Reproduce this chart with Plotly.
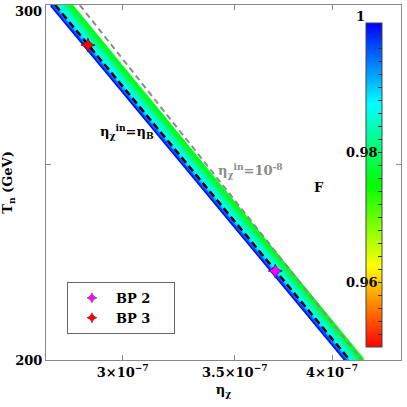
import plotly.graph_objects as go
from plotly.colors import sample_colorscale

# colour scale of F (red -> blue)
f_min, f_max = 0.95, 1.0
f_scale = [[0.0, "#ff0000"], [0.25, "#ffff00"], [0.5, "#00ff00"],
           [0.75, "#00ffff"], [1.0, "#0000ff"]]

# scan band, drawn as thin strips: eta_chi at T=300 GeV and at T=200 GeV, and F
T_ends = [300, 200]
strip_eta_300 = [2.719e-7, 2.7265e-7, 2.734e-7, 2.7415e-7, 2.7491e-7, 2.7566e-7,
                 2.7642e-7, 2.7718e-7, 2.7794e-7, 2.7871e-7, 2.7948e-7]
strip_eta_200 = [4.0755e-7, 4.0868e-7, 4.098e-7, 4.1076e-7, 4.1172e-7, 4.1268e-7,
                 4.1364e-7, 4.1461e-7, 4.1558e-7, 4.1655e-7, 4.1753e-7]
strip_F = [0.9995, 0.996, 0.991, 0.9885, 0.987, 0.9855, 0.984, 0.982, 0.980, 0.978, 0.9765]

# boundary lines
eta_B_line = [2.734e-7, 4.098e-7]      # eta_chi^in = eta_B
eta_1e8_line = [2.828e-7, 4.166e-7]    # eta_chi^in = 1e-8

# benchmark points
bp_names = ["BP 2", "BP 3"]
bp_eta = [3.70e-7, 2.860e-7]
bp_T = [221.4, 286.6]
bp_colors = ["#ff00ff", "#ff0000"]
bp_edges = ["#6a006a", "#7a0000"]

x_ticks = [3e-7, 3.5e-7, 4e-7]
x_ticktext = ["3×10<sup>−7</sup>", "3.5×10<sup>−7</sup>", "4×10<sup>−7</sup>"]
y_ticks = [200, 250, 300]
y_ticktext = ["200", "", ""]   # "300" is placed just below the top tick, see below
cb_ticks = [round(0.95 + 0.002 * i, 3) for i in range(25)]
cb_ticktext = {0.96: "0.96", 0.98: "0.98"}

font = dict(family="DejaVu Serif", size=13, color="black", weight="bold")

fig = go.Figure()

for e300, e200, f in zip(strip_eta_300, strip_eta_200, strip_F):
    col = sample_colorscale(f_scale, [(f - f_min) / (f_max - f_min)])[0]
    fig.add_trace(go.Scatter(x=[e300, e200], y=T_ends, mode="lines",
                             line=dict(color=col, width=3.2),
                             showlegend=False, hoverinfo="skip"))

# colour bar carrier
fig.add_trace(go.Scatter(
    x=strip_eta_300, y=[T_ends[0]] * len(strip_eta_300), mode="markers",
    marker=dict(color=strip_F, colorscale=f_scale, cmin=f_min, cmax=f_max, opacity=0,
                showscale=True,
                colorbar=dict(x=0.901, xanchor="left", xpad=0, ypad=0,
                              y=0.493, yanchor="middle", len=0.913, thickness=16,
                              outlinewidth=1, outlinecolor="#444",
                              tickvals=cb_ticks,
                              ticktext=[cb_ticktext.get(v, "") for v in cb_ticks],
                              ticks="inside", ticklen=4, tickcolor="#333",
                              ticklabelposition="inside",
                              tickfont=font)),
    showlegend=False, hoverinfo="skip"))

fig.add_trace(go.Scatter(x=eta_1e8_line, y=T_ends, mode="lines",
                         line=dict(color="#8c8c8c", width=2, dash="6px,4px"),
                         showlegend=False, hoverinfo="skip"))
fig.add_trace(go.Scatter(x=eta_B_line, y=T_ends, mode="lines",
                         line=dict(color="black", width=2.5, dash="7px,4px"),
                         showlegend=False, hoverinfo="skip"))

for name, ex, ty, c, ec in zip(bp_names, bp_eta, bp_T, bp_colors, bp_edges):
    fig.add_trace(go.Scatter(x=[ex], y=[ty], mode="markers", showlegend=False,
                             marker=dict(symbol="star-diamond", size=10, color=c,
                                         line=dict(color=ec, width=0.8))))
    # smaller symbol for the legend
    fig.add_trace(go.Scatter(x=[None], y=[None], mode="markers",
                             name=name + "\u00a0" * 4,
                             marker=dict(symbol="star-diamond", size=7, color=c,
                                         line=dict(color=ec, width=0.6))))

fig.add_annotation(x=0.228, y=0.645, xref="paper", yref="paper", showarrow=False,
                   xanchor="center", yanchor="middle",
                   text="η<sub>χ</sub><sup>in</sup>=η<sub>B</sub>", font=font)
fig.add_annotation(x=0.575, y=0.535, xref="paper", yref="paper", showarrow=False,
                   xanchor="center", yanchor="middle",
                   text="η<sub>χ</sub><sup>in</sup>=10<sup>-8</sup>",
                   font=dict(font, color="#8c8c8c"))
fig.add_annotation(x=0.769, y=0.485, xref="paper", yref="paper", showarrow=False,
                   xanchor="center", yanchor="middle", text="F", font=font)
# top label of the colour bar sits just above the bar
fig.add_annotation(x=0.905, y=0.969, xref="paper", yref="paper", showarrow=False,
                   xanchor="right", yanchor="middle", text="1", font=font)
# top tick label of the T axis, hung just under the frame
fig.add_annotation(x=0, y=1, xref="paper", yref="paper", showarrow=False,
                   xanchor="right", yanchor="top", xshift=-2, yshift=3,
                   text="300", font=font)

axis_common = dict(type="log", showgrid=False, zeroline=False, showline=True,
                   linecolor="#888", linewidth=1, mirror="allticks", automargin=False,
                   ticks="inside", ticklen=5, tickcolor="#888", tickfont=font,
                   ticklabeloverflow="allow")

fig.update_layout(
    width=407, height=407,
    margin=dict(l=46, r=6, t=5, b=47, autoexpand=False),
    plot_bgcolor="white", paper_bgcolor="white",
    font=font,
    xaxis=dict(axis_common, range=[-6.56867, -6.35675], tickvals=x_ticks,
               ticktext=x_ticktext,
               title=dict(text="η<sub>χ</sub>", font=font, standoff=6)),
    yaxis=dict(axis_common, range=[2.30102, 2.47713], tickvals=y_ticks,
               ticktext=y_ticktext,
               title=dict(text="T<sub>n</sub> (GeV)", font=font, standoff=4)),
    legend=dict(x=0.059, y=0.22, xanchor="left", yanchor="top",
                bgcolor="white", bordercolor="#666", borderwidth=1,
                itemwidth=38, font=font),
)

fig.write_html("out.html", config={"displayModeBar": False},
               post_script="document.body.style.margin='0px';")
